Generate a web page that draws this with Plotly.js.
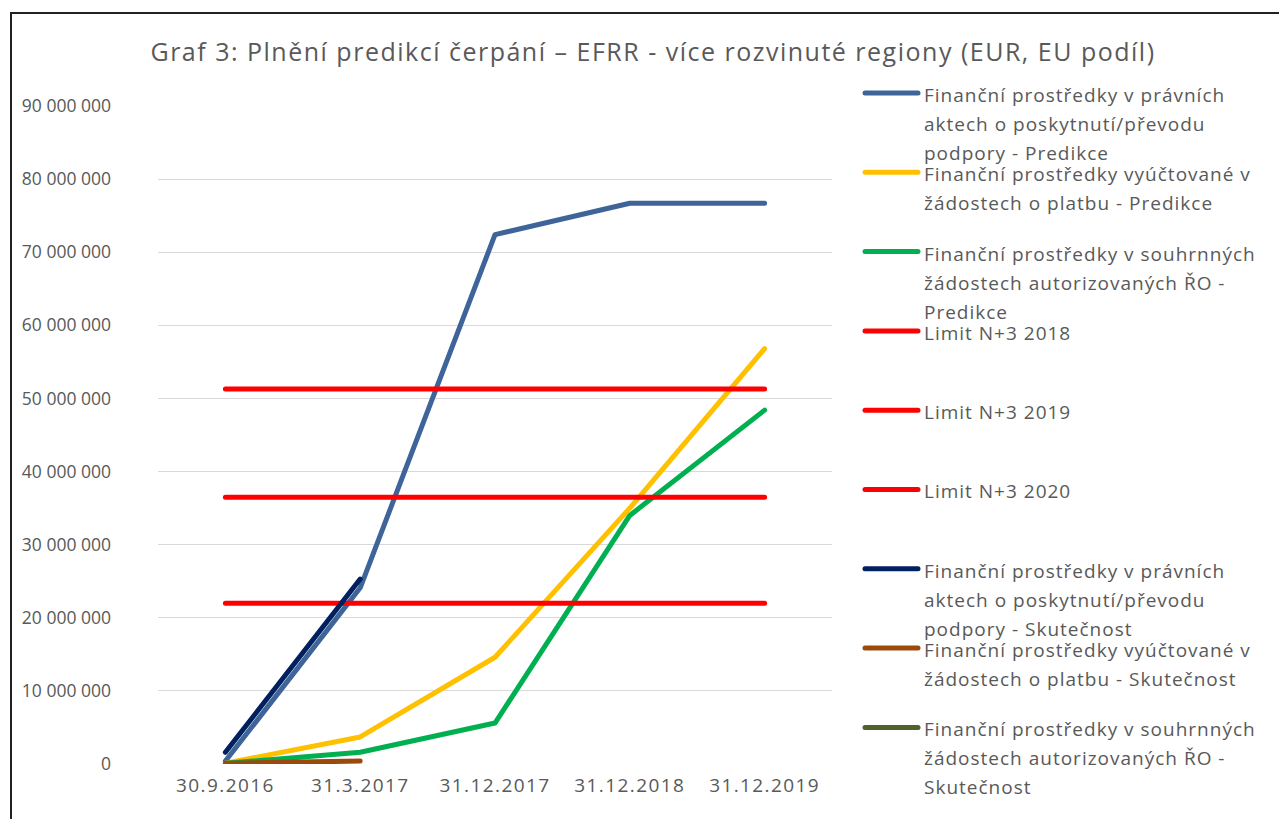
<!DOCTYPE html>
<html>
<head>
<meta charset="utf-8">
<script src="https://cdn.plot.ly/plotly-3.0.1.min.js"></script>
<style>
html,body{margin:0;padding:0;background:#fff;}
#chart{width:1279px;height:819px;}
#frame{position:absolute;left:10px;top:12px;width:1400px;height:900px;border:2px solid #222;pointer-events:none;}
#chart .gtitle{letter-spacing:1.5px;}
#chart .xtick text{letter-spacing:1.4px;}
#chart .annotation-text{letter-spacing:1px;}
#chart .scatterlayer path.js-line{stroke-linecap:round;stroke-linejoin:round;}
#chart .shapelayer path{stroke-linecap:round;}
</style>
</head>
<body>
<div id="chart"></div>
<div id="frame"></div>
<script>
const categories = ['30.9.2016', '31.3.2017', '31.12.2017', '31.12.2018', '31.12.2019'];
const pravniPredikce = [400000, 24100000, 72400000, 76700000, 76700000];
const vyuctovanePredikce = [100000, 3700000, 14600000, 35000000, 56800000];
const souhrnnePredikce = [100000, 1600000, 5600000, 34000000, 48400000];
const limit2018 = [22000000, 22000000, 22000000, 22000000, 22000000];
const limit2019 = [36500000, 36500000, 36500000, 36500000, 36500000];
const limit2020 = [51300000, 51300000, 51300000, 51300000, 51300000];
const skutCategories = ['30.9.2016', '31.3.2017'];
const pravniSkut = [1600000, 25300000];
const vyuctovaneSkut = [100000, 400000];
const souhrnneSkut = [null, null];
const yTickVals = [0,10000000,20000000,30000000,40000000,50000000,60000000,70000000,80000000,90000000];
const yTickText = ['0','10 000 000','20 000 000','30 000 000','40 000 000','50 000 000','60 000 000','70 000 000','80 000 000','90 000 000'];

const legendItems = [
  {lines:['Finanční prostředky v právních','aktech o poskytnutí/převodu','podpory - Predikce'], color:'#3E6499'},
  {lines:['Finanční prostředky vyúčtované v','žádostech o platbu - Predikce'], color:'#FFC000'},
  {lines:['Finanční prostředky v souhrnných','žádostech autorizovaných ŘO -','Predikce'], color:'#00B050'},
  {lines:['Limit N+3 2018'], color:'#FF0000'},
  {lines:['Limit N+3 2019'], color:'#FF0000'},
  {lines:['Limit N+3 2020'], color:'#FF0000'},
  {lines:['Finanční prostředky v právních','aktech o poskytnutí/převodu','podpory - Skutečnost'], color:'#002060'},
  {lines:['Finanční prostředky vyúčtované v','žádostech o platbu - Skutečnost'], color:'#9C4A0C'},
  {lines:['Finanční prostředky v souhrnných','žádostech autorizovaných ŘO -','Skutečnost'], color:'#4F6228'}
];

const FONT = '"Open Sans", sans-serif';
const W = 5;
function tr(x, y, color, name){
  return {x:x, y:y, type:'scatter', mode:'lines', name:name, line:{color:color, width:W}, hoverinfo:'skip'};
}
const data = [
  tr(categories, pravniPredikce, '#3E6499', 'pravniPredikce'),
  tr(categories, vyuctovanePredikce, '#FFC000', 'vyuctovanePredikce'),
  tr(categories, souhrnnePredikce, '#00B050', 'souhrnnePredikce'),
  tr(categories, limit2018, '#FF0000', 'limit2018'),
  tr(categories, limit2019, '#FF0000', 'limit2019'),
  tr(categories, limit2020, '#FF0000', 'limit2020'),
  tr(skutCategories, pravniSkut, '#002060', 'pravniSkut'),
  tr(skutCategories, vyuctovaneSkut, '#9C4A0C', 'vyuctovaneSkut'),
  tr(skutCategories, souhrnneSkut, '#4F6228', 'souhrnneSkut')
];

const L = 158, R = 832, T = 106, B = 764;
const px2x = p => (p - L) / (R - L);
const px2y = p => (B - p) / (B - T);

const shapes = [];
const annotations = [];
const itemY0 = 93, itemStep = 79.3, lineH = 29;
legendItems.forEach((it, i) => {
  const cy = itemY0 + i * itemStep;
  shapes.push({type:'line', xref:'paper', yref:'paper', x0:px2x(865), x1:px2x(918), y0:px2y(cy), y1:px2y(cy), line:{color:it.color, width:5}});
  it.lines.forEach((t, j) => {
    annotations.push({xref:'paper', yref:'paper', x:px2x(922), y:px2y(cy + 2 + j*lineH), xanchor:'left', yanchor:'middle', align:'left', text:t, showarrow:false, font:{family:FONT, size:19, color:'#595959'}});
  });
});

const layout = {
  width:1279, height:819,
  margin:{l:L, r:1279-R, t:T, b:819-B, pad:0},
  paper_bgcolor:'rgba(0,0,0,0)', plot_bgcolor:'#fff',
  showlegend:false,
  font:{family:FONT, color:'#595959'},
  title:{text:'Graf 3: Plnění predikcí čerpání – EFRR - více rozvinuté regiony (EUR, EU podíl)', x:653/1279, xanchor:'center', y:1-52/819, yanchor:'middle', font:{family:FONT, size:25, color:'#595959'}},
  xaxis:{type:'category', range:[-0.5, 4.5], showgrid:false, zeroline:false, showline:false, ticks:'', tickfont:{family:FONT, size:19, color:'#595959'}, ticklabelstandoff:8, fixedrange:true},
  yaxis:{range:[0, 90000000], tickvals:yTickVals, ticktext:yTickText, showgrid:true, gridcolor:'#D9D9D9', gridwidth:1, zeroline:false, showline:false, ticks:'', tickfont:{family:FONT, size:17.5, color:'#595959'}, ticklabelstandoff:46, fixedrange:true},
  shapes:shapes,
  annotations:annotations
};
Plotly.newPlot('chart', data, layout, {displayModeBar:false, staticPlot:true});
</script>
</body>
</html>
